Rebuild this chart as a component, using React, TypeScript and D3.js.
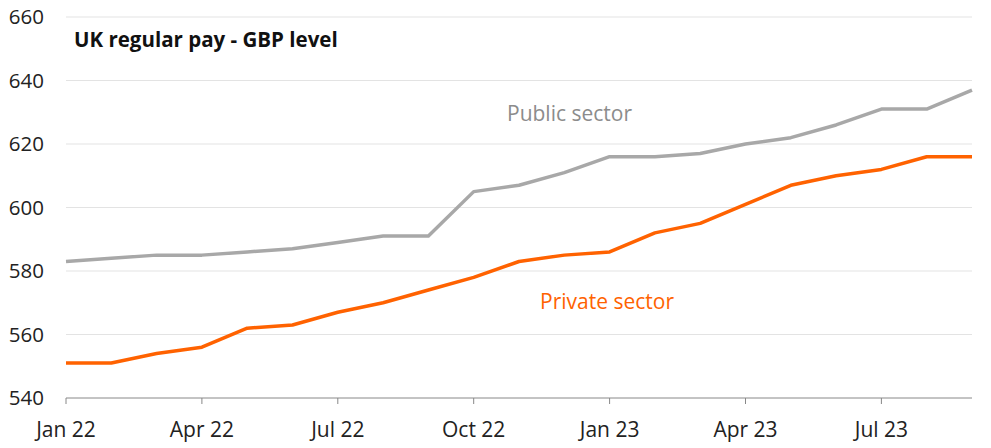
import React from "react";
import * as d3 from "d3";

const months = [
  "2022-01","2022-02","2022-03","2022-04","2022-05","2022-06","2022-07","2022-08","2022-09","2022-10","2022-11","2022-12",
  "2023-01","2023-02","2023-03","2023-04","2023-05","2023-06","2023-07","2023-08","2023-09",
];
const publicSector = [583,584,585,585,586,587,589,591,591,605,607,611,616,616,617,620,622,626,631,631,637];
const privateSector = [551,551,554,556,562,563,567,570,574,578,583,585,586,592,595,601,607,610,612,616,616];
const yTicks = [540,560,580,600,620,640,660];
const xTickLabels = ["Jan 22","Apr 22","Jul 22","Oct 22","Jan 23","Apr 23","Jul 23"];
const xTickIdx = [0,3,6,9,12,15,18];

const W = 991, H = 448;
const left = 66, right = 972, top = 17, bottom = 398;

export default function App() {
  const x = d3.scaleLinear().domain([0, months.length - 1]).range([left, right]);
  const y = d3.scaleLinear().domain([540, 660]).range([bottom, top]);
  const line = d3.line<number>().x((_, i) => x(i)).y(d => y(d));
  const font = "'Open Sans', 'Noto Sans', sans-serif";
  return (
    <svg width={W} height={H} style={{ position: "absolute", left: 0, top: 0, background: "#fff" }}>
      {yTicks.map(t => (
        <g key={t}>
          {t !== 540 && <line x1={left} x2={right} y1={y(t)} y2={y(t)} stroke="#e3e3e3" strokeWidth={1} />}
          <text x={44} y={y(t)} dy="0.35em" textAnchor="end" fontSize={20.5} fontFamily={font} fill="#222">{t}</text>
        </g>
      ))}
      <line x1={left} x2={right} y1={bottom} y2={bottom} stroke="#888" strokeWidth={1} />
      {xTickIdx.map((i, k) => (
        <g key={i}>
          <line x1={x(i)} x2={x(i)} y1={bottom} y2={bottom + 6} stroke="#888" strokeWidth={1} />
          <text x={x(i)} y={437} textAnchor="middle" fontSize={21} fontFamily={font} fill="#222">{xTickLabels[k]}</text>
        </g>
      ))}
      <path d={line(publicSector) || ""} fill="none" stroke="#a8a8a8" strokeWidth={3.5} strokeLinejoin="round" />
      <path d={line(privateSector) || ""} fill="none" stroke="#ff6200" strokeWidth={3.5} strokeLinejoin="round" />
      <text x={74} y={47} fontSize={20.5} fontWeight="bold" fontFamily={font} fill="#111">UK regular pay - GBP level</text>
      <text x={507} y={121} fontSize={21} fontFamily={font} fill="#8c8c8c">Public sector</text>
      <text x={540} y={309} fontSize={21} fontFamily={font} fill="#ff6200">Private sector</text>
    </svg>
  );
}
